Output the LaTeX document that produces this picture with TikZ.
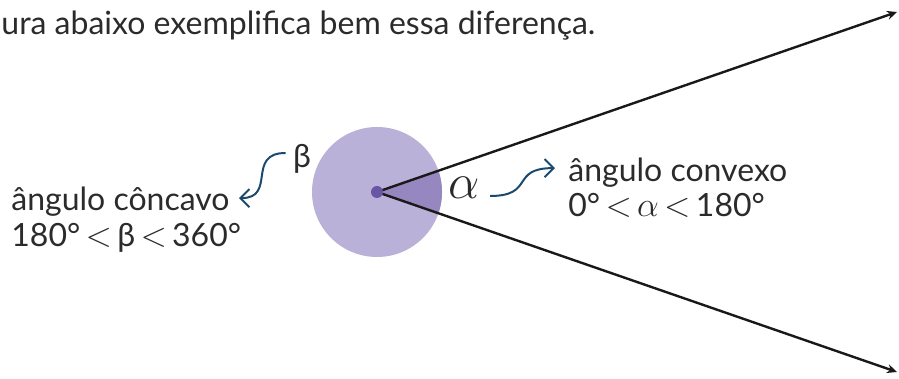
\documentclass[tikz,border=0pt]{standalone}
\usepackage{fontspec}
\setmainfont{Lato}
\usepackage{xcolor}
\usetikzlibrary{arrows.meta,calc,positioning}

\definecolor{lilac}{HTML}{B9B1D8}
\definecolor{lilacdark}{HTML}{9787C0}
\definecolor{dotviolet}{HTML}{6A55A4}
\definecolor{curlyblue}{HTML}{1B4A6E}
\definecolor{inkgray}{HTML}{2B2B2B}

\begin{document}
\begin{tikzpicture}[x=0.5pt,y=0.5pt,
    txt/.style={inner sep=0pt, anchor=base west, text=inkgray, font=\fontsize{16}{18}\selectfont},
    ray/.style={line width=1.2pt, draw=black!90, -{Stealth[length=5pt,width=4.5pt]}},
    curly/.style={line width=1pt, draw=curlyblue, -{Straight Barb[length=4.5pt,width=9pt]}}]
  \useasboundingbox (0,0) rectangle (899,379);
  \def\r{65}
  \def\ang{19.1}

  \coordinate (O) at (377,187);
  \coordinate (up) at (897,367);
  \coordinate (down) at (897,7);

  % full turn and the convex sector
  \fill[lilac] (O) circle[radius=\r];
  \fill[lilacdark] (O) -- ++(-\ang:\r) arc[start angle=-\ang, end angle=\ang, radius=\r] -- cycle;

  % sides of the angle
  \draw[ray] (O) -- (up);
  \draw[ray] (O) -- (down);
  \fill[dotviolet] (O) circle[radius=6];

  % caption line
  \node[txt] (intro) at (1,344) {ura abaixo exemplifica bem essa diferença.};

  % angle names
  \node[inkgray, inner sep=0pt, font=\fontsize{27}{27}\selectfont] (alpha) at (464,191) {$\alpha$};
  \node[inkgray, inner sep=0pt, font=\fontsize{16}{18}\selectfont] (beta) at (302,220) {β};

  % labels
  \node[txt] (convexo) at (568,197) {ângulo convexo};
  \node[txt] (convexoval) at (568,162) {0°\,$<$\,$\alpha$\,$<$\,180°};
  \node[txt] (concavo) at (11,168) {ângulo côncavo};
  \node[txt] (concavoval) at (11,132) {180°\,$<$\,β\,$<$\,360°};

  % curly pointers
  \draw[curly] ([shift={(10,-8)}]alpha.east) .. controls +(45,0) and +(-45,0) .. ([shift={(-13,5)}]convexo.west);
  \draw[curly] ([shift={(-7,6)}]beta.west) .. controls +(-40,0) and +(38,0) .. ([shift={(9,4)}]concavo.east);
\end{tikzpicture}
\end{document}
